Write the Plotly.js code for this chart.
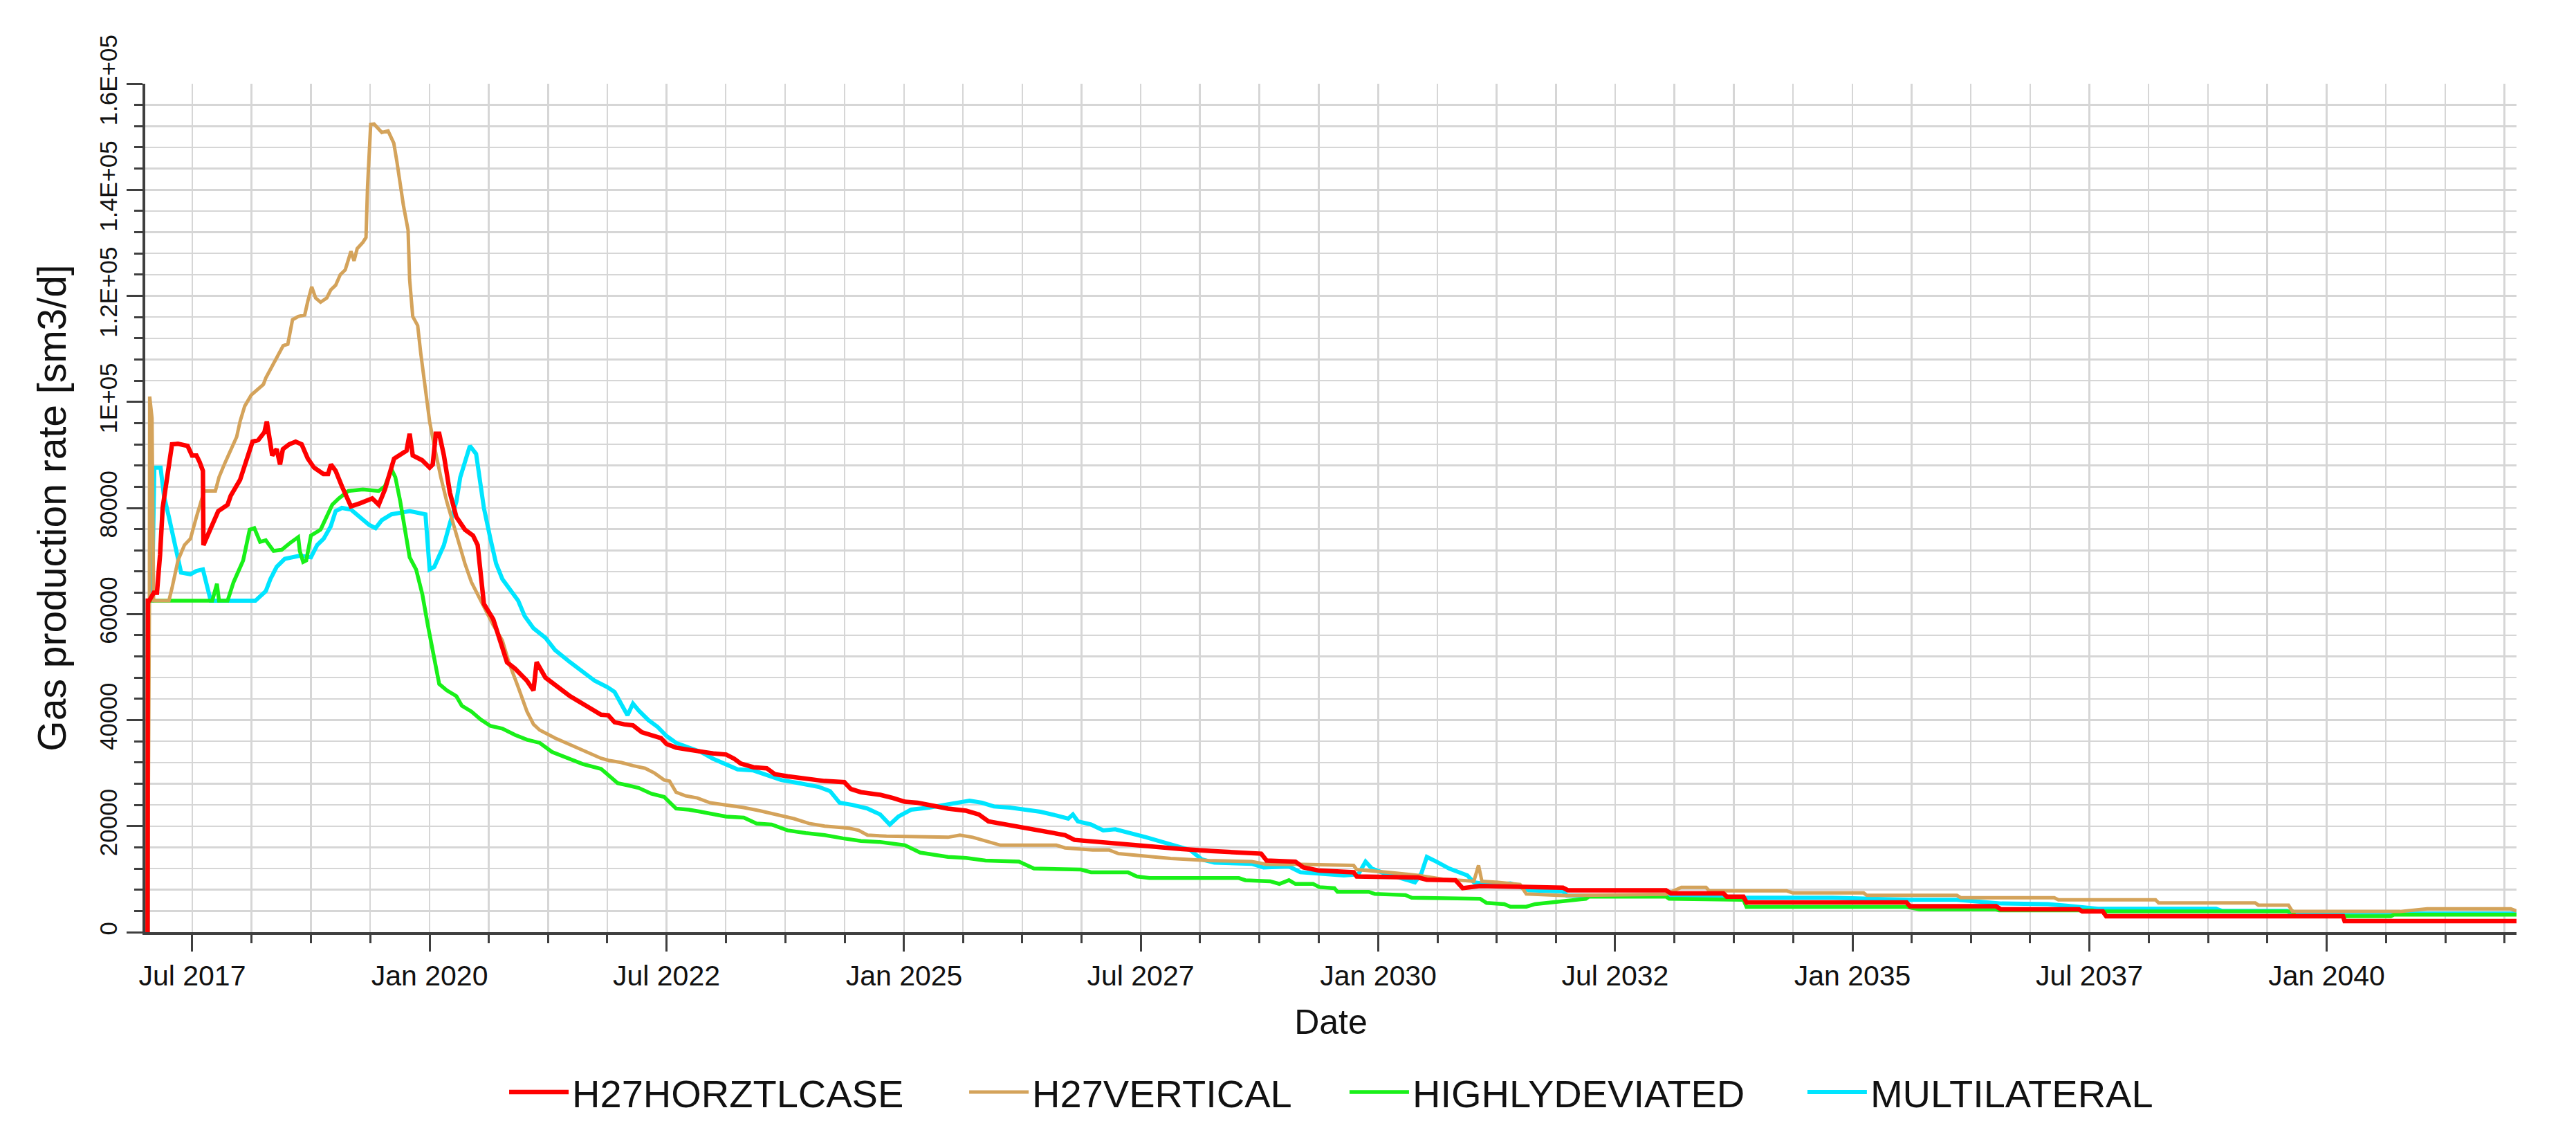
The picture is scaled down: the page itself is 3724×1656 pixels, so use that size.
<!DOCTYPE html>
<html>
<head>
<meta charset="utf-8">
<script src="https://cdn.plot.ly/plotly-3.0.1.min.js"></script>
<style>
html,body{margin:0;padding:0;background:#ffffff;}
#chart{width:3724px;height:1656px;}
</style>
</head>
<body>
<div id="chart"></div>
<script>
// ---------- axis tick data ----------
const xTickDates = ['2017-07-01','2020-01-01','2022-07-01','2025-01-01','2027-07-01','2030-01-01','2032-07-01','2035-01-01','2037-07-01','2040-01-01'];
const xTickLabels = ['Jul 2017','Jan 2020','Jul 2022','Jan 2025','Jul 2027','Jan 2030','Jul 2032','Jan 2035','Jul 2037','Jan 2040'];
const yTickValues = [0,20000,40000,60000,80000,100000,120000,140000,160000];
const yTickLabels = ['0','20000','40000','60000','80000','1E+05','1.2E+05','1.4E+05','1.6E+05'];

// ---------- series names ----------
const seriesNames = ['H27HORZTLCASE','H27VERTICAL','HIGHLYDEVIATED','MULTILATERAL'];

// ---------- H27HORZTLCASE ----------
const horzDates = ['2017-01-10','2017-01-11','2017-01-16','2017-02-03','2017-02-15','2017-02-27','2017-03-09','2017-03-20','2017-04-02','2017-04-14','2017-05-07','2017-06-13','2017-06-30','2017-07-17','2017-07-29','2017-08-11','2017-08-13','2017-09-04','2017-10-09','2017-11-14','2017-11-26','2018-01-01','2018-01-25','2018-02-18','2018-03-12','2018-04-05','2018-04-14','2018-04-23','2018-05-05','2018-05-22','2018-06-04','2018-06-15','2018-07-09','2018-08-03','2018-08-26','2018-09-19','2018-10-13','2018-11-18','2018-12-06','2018-12-17','2019-01-04','2019-01-28','2019-03-04','2019-04-09','2019-05-25','2019-06-19','2019-07-13','2019-08-17','2019-10-04','2019-10-16','2019-10-28','2019-12-03','2020-01-01','2020-01-13','2020-01-25','2020-02-07','2020-02-25','2020-03-19','2020-04-13','2020-05-16','2020-06-16','2020-07-04','2020-07-22','2020-07-28','2020-09-02','2020-10-07','2020-10-25','2020-11-25','2021-01-10','2021-02-04','2021-02-16','2021-03-22','2021-05-07','2021-06-25','2021-08-25','2021-10-22','2021-11-19','2021-12-13','2022-01-19','2022-02-22','2022-03-28','2022-05-04','2022-06-10','2022-07-01','2022-08-07','2022-09-25','2022-11-10','2022-12-28','2023-02-16','2023-03-19','2023-04-13','2023-06-01','2023-07-22','2023-08-22','2023-10-10','2023-12-19','2024-03-01','2024-05-16','2024-06-10','2024-07-19','2024-10-01','2024-11-19','2025-01-04','2025-02-22','2025-04-07','2025-05-25','2025-06-19','2025-08-28','2025-10-16','2025-11-22','2026-01-07','2026-03-07','2026-05-16','2026-07-28','2026-09-13','2026-10-19','2027-03-01','2027-06-28','2027-09-10','2027-12-01','2028-03-28','2028-10-07','2028-10-28','2029-02-16','2029-03-19','2029-05-19','2029-09-28','2029-10-10','2030-06-04','2030-07-07','2030-10-25','2030-11-22','2031-01-28','2031-12-13','2032-01-01','2033-01-13','2033-02-01','2033-08-22','2033-09-04','2033-11-07','2033-11-19','2035-07-28','2035-08-10','2036-07-07','2036-07-25','2037-05-22','2037-06-04','2037-08-22','2037-09-04','2040-03-04','2040-03-10','2042-01-01'];
const horzValues = [0,62500,62500,64000,64000,71200,80000,84000,88700,92000,92100,91700,89900,89900,88700,87000,73000,75300,79400,80600,82300,85300,88700,92500,92800,94300,96300,94000,89900,91100,88200,91100,92000,92500,92000,89300,87600,86400,86400,88200,87000,84100,80300,80900,81800,80600,83500,89300,90800,94000,89900,89000,87600,88200,94000,94000,89900,82900,78300,75900,74800,73000,65500,61900,59000,53800,50900,49700,47400,45600,50900,48000,46200,44500,42700,41000,40900,39600,39200,39000,37700,37200,36600,35500,34800,34400,34000,33700,33500,32700,31800,31100,30900,29800,29400,29000,28500,28300,27000,26400,25900,25300,24600,24400,24000,23700,23300,22900,22200,20900,20500,19800,19200,18700,18300,17400,16800,16300,15900,15700,15300,14800,13500,13300,12200,11600,11300,10500,10300,9900,9800,8300,8700,8400,7900,7900,7300,7300,6700,6700,5600,5600,4900,4900,4300,4300,3900,3900,3000,3000,2100,2100];

// ---------- H27VERTICAL ----------
const vertDates = ['2017-01-10','2017-01-17','2017-01-18','2017-01-27','2017-02-02','2017-04-02','2017-04-14','2017-05-07','2017-06-01','2017-06-24','2017-07-17','2017-08-05','2017-08-16','2017-09-28','2017-10-12','2017-11-03','2017-11-26','2017-12-19','2018-01-01','2018-01-19','2018-02-13','2018-03-13','2018-04-01','2018-04-10','2018-04-28','2018-05-28','2018-06-16','2018-07-04','2018-07-10','2018-07-22','2018-08-13','2018-09-07','2018-09-19','2018-10-04','2018-10-19','2018-11-07','2018-12-01','2018-12-16','2019-01-04','2019-01-22','2019-02-10','2019-03-04','2019-03-16','2019-03-28','2019-04-19','2019-05-01','2019-05-07','2019-05-13','2019-05-19','2019-06-01','2019-07-01','2019-07-25','2019-08-16','2019-08-28','2019-09-22','2019-10-10','2019-10-16','2019-10-28','2019-11-16','2019-11-28','2019-12-16','2020-01-01','2020-01-19','2020-02-13','2020-03-07','2020-04-01','2020-04-25','2020-05-16','2020-06-10','2020-07-04','2020-07-28','2020-09-02','2020-10-07','2020-11-01','2020-12-07','2021-01-10','2021-02-04','2021-02-28','2021-04-28','2021-06-25','2021-08-25','2021-10-22','2021-11-19','2022-01-07','2022-02-22','2022-04-10','2022-05-16','2022-06-22','2022-07-13','2022-08-07','2022-09-13','2022-10-28','2022-12-16','2023-02-16','2023-04-25','2023-06-25','2023-08-22','2023-11-04','2024-01-01','2024-03-01','2024-06-04','2024-07-10','2024-08-13','2024-10-25','2025-06-19','2025-08-04','2025-09-22','2025-11-22','2026-01-07','2026-08-10','2026-09-13','2026-12-28','2027-03-01','2027-04-07','2027-10-25','2028-03-16','2028-09-01','2028-10-28','2029-03-07','2029-09-28','2029-10-10','2030-02-07','2030-06-04','2030-09-07','2031-01-04','2031-01-22','2031-02-04','2031-04-07','2031-07-01','2031-07-25','2031-12-13','2031-12-28','2033-01-13','2033-03-13','2033-06-16','2033-06-28','2034-04-22','2034-05-16','2035-02-13','2035-02-25','2036-02-07','2036-02-22','2037-02-16','2037-03-04','2038-03-13','2038-03-25','2039-04-01','2039-04-13','2039-08-07','2039-08-22','2040-10-10','2041-01-22','2041-12-10','2042-01-01'];
const vertValues = [0,62500,101000,96900,62500,62500,64900,70100,73000,74200,78300,81800,83200,83200,85800,88400,91100,93400,96300,99200,101300,102400,103300,104500,106200,109100,110600,110900,112600,115500,116100,116400,119000,121700,119600,118800,119600,121100,122000,124000,124900,128400,126600,128900,130100,131000,140600,148200,152300,152400,150800,151100,148800,145300,137100,132400,123100,116100,114400,109100,101600,96300,91700,85800,81200,77100,73000,69500,66000,63700,61400,57900,55000,50900,46200,41600,39200,38100,36600,35400,34000,32800,32400,32000,31400,30900,30000,28700,28500,26400,25700,25300,24400,24000,23500,22900,22200,21400,20500,20000,19600,19200,18300,18100,17900,18300,17900,17000,16400,16400,15900,15500,15500,14800,13900,13500,13300,12800,12800,12600,11800,11300,10700,10000,9600,12600,9600,9400,9000,7200,7000,6900,7150,8450,8450,7800,7800,7400,7400,6950,6950,6500,6500,6100,6100,5500,5500,5100,5100,3900,3900,4400,4400,4000];

// ---------- HIGHLYDEVIATED ----------
const devDates = ['2017-01-10','2017-01-11','2017-09-16','2017-10-04','2017-10-12','2017-11-14','2017-12-07','2018-01-13','2018-02-07','2018-02-25','2018-03-19','2018-04-10','2018-05-10','2018-06-10','2018-07-10','2018-08-13','2018-08-19','2018-09-01','2018-09-13','2018-10-01','2018-11-07','2018-11-29','2018-12-22','2019-01-16','2019-02-22','2019-04-19','2019-06-19','2019-07-13','2019-08-07','2019-08-22','2019-09-10','2019-10-04','2019-10-16','2019-11-10','2019-12-04','2019-12-25','2020-01-19','2020-02-07','2020-03-07','2020-04-13','2020-05-04','2020-06-10','2020-07-16','2020-08-22','2020-10-07','2020-11-25','2021-01-10','2021-02-28','2021-04-16','2021-06-01','2021-08-13','2021-10-22','2021-11-19','2021-12-25','2022-02-01','2022-03-16','2022-05-04','2022-06-22','2022-08-07','2022-09-25','2022-11-10','2022-12-28','2023-02-16','2023-04-25','2023-06-13','2023-08-10','2023-10-10','2023-12-19','2024-03-01','2024-05-10','2024-07-19','2024-10-01','2025-01-04','2025-03-04','2025-05-01','2025-06-19','2025-08-28','2025-11-10','2026-03-19','2026-05-16','2026-11-13','2026-12-22','2027-05-13','2027-06-16','2027-08-04','2028-07-13','2028-08-07','2028-11-10','2028-12-16','2029-01-22','2029-02-16','2029-04-25','2029-05-19','2029-07-16','2029-07-28','2029-11-25','2029-12-19','2030-04-16','2030-05-10','2031-01-28','2031-02-22','2031-05-01','2031-05-25','2031-07-25','2031-08-28','2031-11-25','2032-01-22','2032-03-10','2032-03-22','2033-01-13','2033-01-25','2033-11-07','2033-11-19','2035-07-28','2035-09-16','2036-07-07','2036-07-19','2037-07-15','2037-08-01','2039-08-22','2039-09-01','2040-09-04','2040-09-16','2042-01-01'];
const devValues = [0,62500,62500,65700,62500,62500,66000,70100,75900,76200,73600,73900,71900,72100,73300,74500,71900,69800,70100,74800,75900,78300,80600,81800,83200,83500,83200,84100,87300,85800,81200,74200,70700,68400,63700,57900,52000,46800,45600,44500,42700,41600,40100,38900,38400,37200,36300,35700,34000,33100,31700,30800,29600,28100,27700,27200,26100,25500,23300,23100,22700,22200,21800,21600,20500,20300,19200,18700,18300,17700,17200,17000,16400,15000,14600,14200,14000,13500,13300,12000,11800,11300,11300,10500,10200,10200,9800,9600,9100,9800,9100,9100,8500,8300,7600,7600,7200,7000,6500,6300,5500,5300,4800,4800,5300,5800,6100,6300,6700,6700,6300,6100,4750,4750,4300,4300,4100,4100,3900,3900,3000,3000,3300,3300];

// ---------- MULTILATERAL ----------
const multiDates = ['2017-01-10','2017-01-11','2017-01-27','2017-02-05','2017-03-01','2017-03-14','2017-04-02','2017-04-25','2017-05-19','2017-06-24','2017-07-17','2017-08-11','2017-08-28','2017-09-10','2018-03-01','2018-03-23','2018-04-10','2018-04-28','2018-05-22','2018-06-22','2018-08-19','2018-10-01','2018-10-25','2018-11-19','2018-12-16','2019-01-04','2019-01-28','2019-03-04','2019-04-09','2019-05-13','2019-06-07','2019-07-01','2019-08-07','2019-10-16','2019-12-16','2019-12-25','2020-01-01','2020-01-19','2020-02-25','2020-03-19','2020-04-13','2020-04-28','2020-06-04','2020-06-28','2020-07-10','2020-07-28','2020-08-22','2020-09-13','2020-10-07','2020-11-01','2020-12-07','2021-01-01','2021-02-04','2021-03-22','2021-04-28','2021-06-25','2021-08-13','2021-09-28','2021-11-16','2021-12-13','2022-01-07','2022-02-01','2022-02-22','2022-03-16','2022-04-22','2022-05-28','2022-07-01','2022-08-07','2022-09-25','2022-11-10','2022-12-28','2023-02-16','2023-04-01','2023-06-01','2023-07-28','2023-09-16','2023-11-25','2024-02-07','2024-03-22','2024-04-28','2024-06-16','2024-08-13','2024-10-01','2024-11-07','2024-12-10','2025-01-28','2025-04-07','2025-07-13','2025-09-10','2025-10-28','2025-12-13','2026-02-13','2026-04-13','2026-06-10','2026-08-10','2026-09-25','2026-10-13','2026-11-01','2026-12-22','2027-02-07','2027-03-25','2027-05-25','2027-07-22','2027-09-22','2027-11-19','2028-01-07','2028-02-22','2028-04-10','2028-09-01','2028-10-16','2029-01-22','2029-03-07','2029-08-22','2029-10-16','2029-11-13','2029-12-07','2030-01-13','2030-04-16','2030-05-22','2030-06-16','2030-07-07','2030-08-13','2030-10-01','2030-12-10','2031-01-04','2031-03-16','2031-05-25','2031-08-04','2031-12-13','2031-12-28','2033-01-13','2033-09-10','2034-10-16','2035-08-10','2036-02-07','2036-07-28','2037-01-22','2037-04-04','2037-08-04','2038-11-01','2038-11-25','2039-08-01','2039-08-19','2042-01-01'];
const multiValues = [0,62500,62500,87600,87600,82300,78300,73000,67800,67500,68100,68400,64900,62500,62500,63400,64300,66600,68900,70400,71000,70700,73000,74200,76500,79400,80000,79700,78300,76800,76200,77700,78800,79400,78800,73000,68400,68900,73000,77100,81200,85800,91700,90200,85800,80000,74200,69500,66600,64900,62500,59600,57300,55500,53200,50900,49100,47400,46200,45300,43100,40900,43100,41800,40000,38700,37000,35700,34800,34000,32700,31600,30700,30500,29600,28700,28100,27400,26600,24400,24000,23300,22200,20300,21800,23100,23500,24200,24800,24400,23700,23500,23100,22700,22000,21400,22200,20900,20300,19200,19400,18700,17900,17000,16100,15500,13700,13100,12900,12200,12400,11300,10700,10900,13300,12000,11300,10000,9400,11100,14200,13300,12000,10700,9400,8900,9200,7900,7700,6900,6900,6500,6500,6100,6100,5400,5300,5000,4400,4400,4000,4000,3500,3500];

// ---------- styling ----------
const FONT = 'Liberation Sans, Arial, Helvetica, sans-serif';
const seriesColors = ['#ff0000','#d4a35b','#19f019','#00e5ff'];
const seriesWidths = [6.5, 5, 5.5, 6];

// minor date ticks: three between each labelled tick (same spacing continued past the last one)
function isoDate(ms){ return new Date(ms).toISOString().slice(0,10); }
const minorXTicks = [];
for (let i = 0; i < xTickDates.length; i++) {
  const a = Date.parse(xTickDates[i]);
  const b = (i + 1 < xTickDates.length) ? Date.parse(xTickDates[i+1]) : a + (a - Date.parse(xTickDates[i-1]));
  for (let k = 1; k < 4; k++) minorXTicks.push(isoDate(a + (b - a) * k / 4));
}

const seriesX = [horzDates, vertDates, devDates, multiDates];
const seriesY = [horzValues, vertValues, devValues, multiValues];
const legendIds = ['legend','legend2','legend3','legend4'];
const legendX = [0.1520, 0.3460, 0.5064, 0.6995];

// draw order: MULTILATERAL at bottom, H27HORZTLCASE on top
const drawOrder = [3, 2, 1, 0];
const traces = drawOrder.map(i => ({
  type: 'scatter',
  mode: 'lines',
  name: seriesNames[i],
  x: seriesX[i],
  y: seriesY[i],
  line: {color: seriesColors[i], width: seriesWidths[i]},
  legend: legendIds[i],
  hoverinfo: 'skip'
}));

const gridColor = '#d6d6d6';
const axisColor = '#3f3f3f';

const layout = {
  width: 3724,
  height: 1656,
  margin: {l: 210, r: 86, t: 121, b: 309, pad: 0},
  paper_bgcolor: '#ffffff',
  plot_bgcolor: '#ffffff',
  font: {family: FONT, color: '#111111'},
  showlegend: true,
  xaxis: {
    type: 'date',
    range: ['2017-01-01', '2042-01-01'],
    tickmode: 'array',
    tickvals: xTickDates,
    ticktext: xTickLabels,
    tickfont: {size: 41, family: FONT, color: '#111111'},
    ticks: 'outside',
    ticklen: 24,
    tickwidth: 3,
    tickcolor: axisColor,
    showline: true,
    linecolor: axisColor,
    linewidth: 4,
    showgrid: true,
    gridcolor: gridColor,
    gridwidth: 2.5,
    zeroline: false,
    minor: {
      tickmode: 'array',
      tickvals: minorXTicks,
      ticks: 'outside',
      ticklen: 12,
      tickwidth: 3,
      tickcolor: axisColor,
      showgrid: true,
      gridcolor: gridColor,
      gridwidth: 2.5
    },
    title: {text: 'Date', font: {size: 50, family: FONT, color: '#111111'}, standoff: 28},
    automargin: false,
    fixedrange: true
  },
  yaxis: {
    range: [0, 160000],
    tickmode: 'array',
    tickvals: yTickValues,
    ticktext: yTickLabels,
    tickangle: -90,
    tickfont: {size: 35, family: FONT, color: '#111111'},
    ticks: 'outside',
    ticklen: 23,
    tickwidth: 3,
    tickcolor: axisColor,
    showline: true,
    linecolor: axisColor,
    linewidth: 4,
    showgrid: true,
    gridcolor: gridColor,
    gridwidth: 2.5,
    zeroline: false,
    minor: {
      tickmode: 'linear',
      tick0: 0,
      dtick: 4000,
      ticks: 'outside',
      ticklen: 12,
      tickwidth: 3,
      tickcolor: axisColor,
      showgrid: true,
      gridcolor: gridColor,
      gridwidth: 2.5
    },
    title: {text: 'Gas production rate [sm3/d]', font: {size: 57, family: FONT, color: '#111111'}, standoff: 24},
    automargin: false,
    fixedrange: true
  }
};

legendIds.forEach((id, i) => {
  layout[id] = {
    orientation: 'h',
    x: legendX[i],
    xanchor: 'left',
    y: -0.1884,
    yanchor: 'middle',
    font: {size: 56, family: FONT, color: '#111111'},
    bgcolor: 'rgba(0,0,0,0)',
    borderwidth: 0,
    itemwidth: 86,
    itemclick: false,
    itemdoubleclick: false
  };
});

Plotly.newPlot('chart', traces, layout, {staticPlot: true, displayModeBar: false, responsive: false});
</script>
</body>
</html>
